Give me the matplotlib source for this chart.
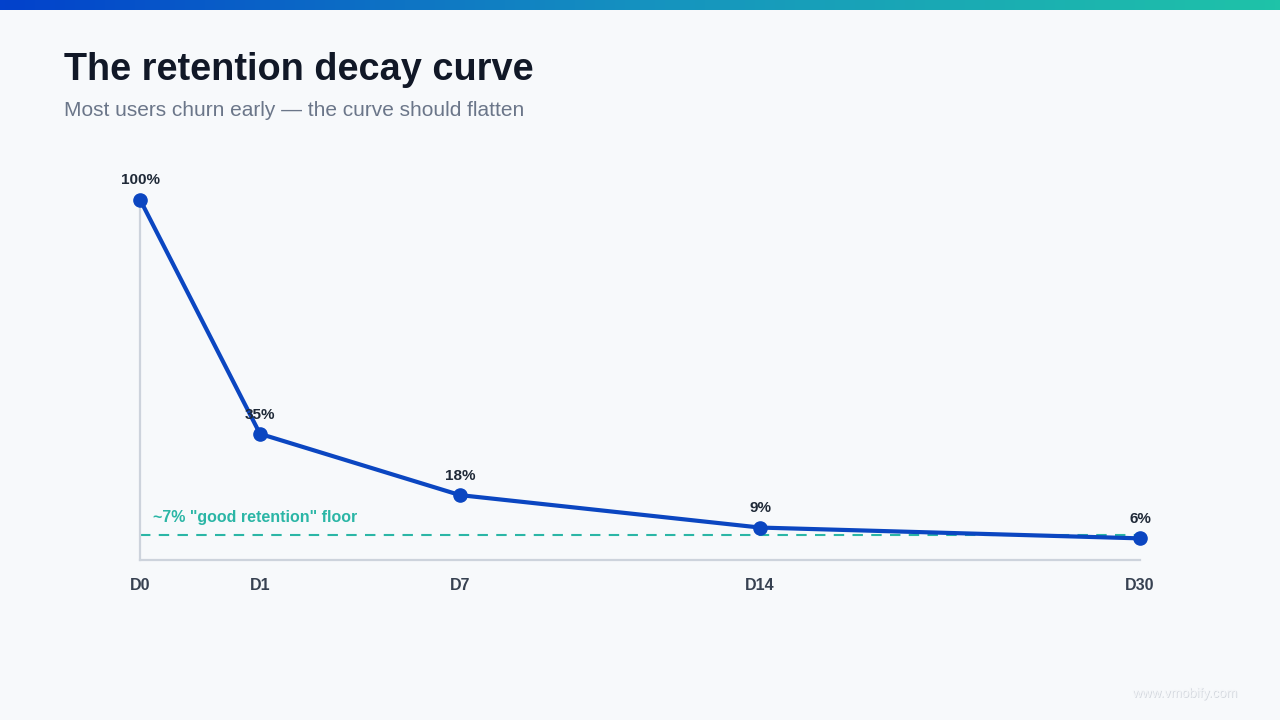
import matplotlib.pyplot as plt
import matplotlib.patheffects as pe
from matplotlib.colors import LinearSegmentedColormap
import numpy as np

plt.rcParams['font.family'] = ['Liberation Sans', 'DejaVu Sans']

# data
days = ["D0", "D1", "D7", "D14", "D30"]
x_pos = [0, 1.2, 3.2, 6.2, 10]   # spacing as drawn in the chart
retention = [100, 35, 18, 9, 6]
floor_value = 7
floor_label = '~7% "good retention" floor'

title = "The retention decay curve"
subtitle = "Most users churn early \u2014 the curve should flatten"

bg = "#f7f9fb"
blue = "#0b46c1"
teal = "#2bb6a6"

fig = plt.figure(figsize=(12.8, 7.2), dpi=100, facecolor=bg)

# gradient bar on top
bar_ax = fig.add_axes([0, 1 - 10 / 720, 1, 10 / 720])
grad = np.linspace(0, 1, 256).reshape(1, -1)
cmap = LinearSegmentedColormap.from_list("topbar", ["#0241cc", "#1592c0", "#1fc3a8"])
bar_ax.imshow(grad, aspect="auto", cmap=cmap)
bar_ax.axis("off")

fig.text(64 / 1280, 1 - 80 / 720, title, fontsize=27.3, fontweight="bold", color="#111827")
fig.text(64 / 1280, 1 - 116 / 720, subtitle, fontsize=15, color="#6b7689")

ax = fig.add_axes([140 / 1280, 160 / 720, 1000 / 1280, 360.5 / 720])
ax.set_facecolor(bg)
ax.set_xlim(0, 10)
ax.set_ylim(0, 100)

for s in ["top", "right"]:
    ax.spines[s].set_visible(False)
for s in ["left", "bottom"]:
    ax.spines[s].set_color("#cdd3dc")
    ax.spines[s].set_linewidth(1.6)

ax.axhline(floor_value, color=teal, lw=1.5, ls=(0, (5, 4)), zorder=2)
ax.text(0.13, floor_value + 3.5, floor_label, color=teal, fontsize=11.5,
        fontweight="bold", va="baseline", ha="left")

ax.plot(x_pos, retention, color=blue, lw=3, marker="o", markersize=9.5,
        zorder=3, clip_on=False)

for x, v in zip(x_pos, retention):
    ax.annotate(f"{v}%", (x, v), xytext=(0, 11), textcoords="offset points",
                ha="center", va="baseline", fontsize=11, fontweight="bold",
                color="#1f2937", zorder=4)

ax.set_xticks(x_pos)
ax.set_xticklabels(days, fontsize=11.5, fontweight="bold", color="#374151")
ax.tick_params(axis="x", length=0, pad=13)
ax.set_yticks([])

fig.text(1185 / 1280, 1 - 697 / 720, "www.vmobify.com", fontsize=9.5, color="#f4f6f8",
         ha="center", va="baseline",
         path_effects=[pe.withSimplePatchShadow(offset=(0.6, -0.6), shadow_rgbFace="#c9ced6", alpha=0.8)])

fig.savefig("out.png", dpi=100, facecolor=bg)
